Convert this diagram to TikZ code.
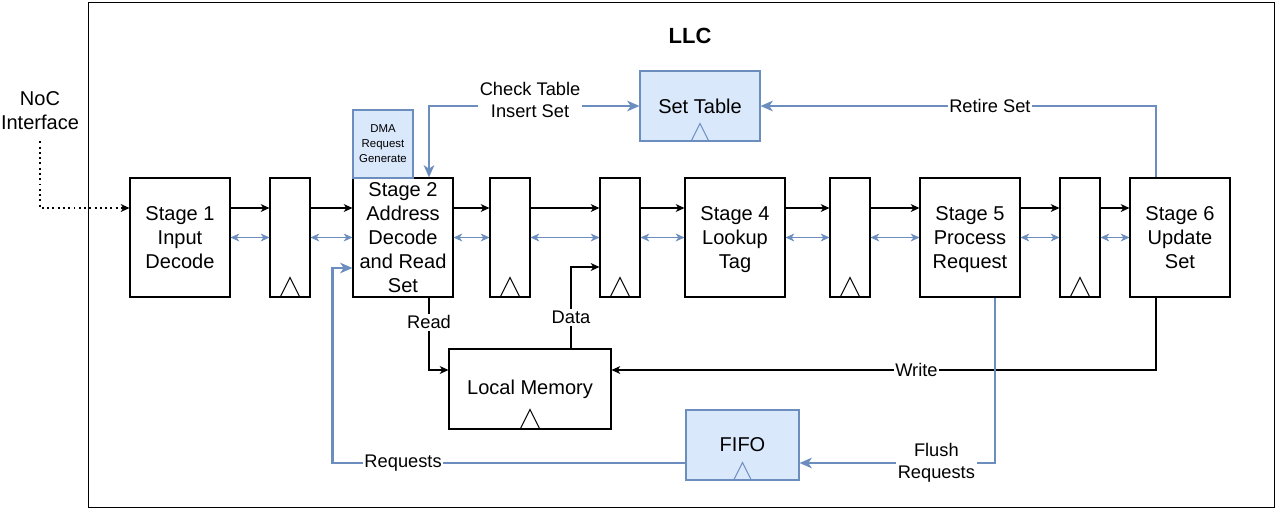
\documentclass[tikz,border=0pt]{standalone}
\usepackage{fontspec}
\setmainfont{Liberation Sans}
\usetikzlibrary{positioning,arrows.meta}
\definecolor{boxblue}{HTML}{DAE8FC}
\definecolor{lineblue}{HTML}{6C8EBF}

\begin{document}
\begin{tikzpicture}
    [x=0.02cm,y=-0.02cm,>={Stealth[length=5pt,width=4.5pt,inset=1.5pt]},
     every node/.style={font=\fontsize{11.4}{13.6}\selectfont, align=center, inner sep=0pt},
     stage/.style={draw, line width=0.6pt, minimum width=2cm, minimum height=2.38cm},
     reg/.style={draw, line width=0.6pt, minimum width=0.8cm, minimum height=2.38cm},
     bluebox/.style={draw=lineblue, fill=boxblue, line width=0.6pt},
     blueline/.style={draw=lineblue, line width=1.2pt, >={Stealth[length=7pt,width=6pt,inset=2pt]}},
     lbl/.style={fill=white, inner sep=1pt, font=\fontsize{10.4}{12.3}\selectfont}]
  \useasboundingbox (0,0) rectangle (1281,511);

  \node[draw, line width=0.6pt, minimum width=23.74cm, minimum height=10.12cm] (llcbox) at (681.5,255) {};
  \node (llc) at (690,36) {\fontsize{12.5}{15}\selectfont\bfseries LLC};
  \node (noc) at (40,111) {NoC\\Interface};

  \node[stage] (st1) at (180,237.5) {Stage 1\\Input\\Decode};
  \node[reg] (r1) at (290,237.5) {};
  \node[stage] (st2) at (403,237.5) {Stage 2\\Address\\Decode\\and Read\\Set};
  \node[reg] (r2) at (510,237.5) {};
  \node[reg] (r3) at (620,237.5) {};
  \node[stage] (st4) at (735,237.5) {Stage 4\\Lookup\\\smash{Tag}};
  \node[reg] (r4) at (850,237.5) {};
  \node[stage] (st5) at (970,237.5) {Stage 5\\Process\\\smash{Request}};
  \node[reg] (r5) at (1080,237.5) {};
  \node[stage] (st6) at (1180,237.5) {Stage 6\\Update\\Set};

  \node[bluebox, minimum width=1.2cm, minimum height=1.36cm, font=\fontsize{6.5}{8.5}\selectfont] (dma) at (383,144) {DMA\\Request\\Generate};
  \node[bluebox, minimum width=2.4cm, minimum height=1.4cm] (settab) at (700,106) {Set Table};
  \node[draw, line width=0.6pt, minimum width=3.24cm, minimum height=1.6cm] (lmem) at (530,389) {Local Memory};
  \node[bluebox, minimum width=2.26cm, minimum height=1.4cm] (fifo) at (742.5,445) {FIFO};

  % clock marks
  \foreach \n in {r1,r2,r3,r4,r5,lmem}
    \draw[line width=0.6pt] ([xshift=-0.2cm]\n.south) -- ([yshift=0.4cm]\n.south) -- ([xshift=0.2cm]\n.south);
  \foreach \n in {settab,fifo}
    \draw[lineblue, line width=0.6pt] ([xshift=-0.18cm]\n.south) -- ([yshift=0.36cm]\n.south) -- ([xshift=0.18cm]\n.south);

  % pipeline
  \foreach \from/\to in {st1/r1, r1/st2, st2/r2, r2/r3, r3/st4, st4/r4, r4/st5, st5/r5, r5/st6}
  {
    \draw[->, line width=0.6pt] ([yshift=0.59cm]\from.east) -- ([yshift=0.59cm]\to.west);
    \draw[<->, lineblue, line width=0.6pt] (\from.east) -- (\to.west);
  }

  \draw[->, line width=1.1pt, dash pattern=on 1.1pt off 1.9pt] ([yshift=-0.22cm]noc.south) |- ([yshift=0.59cm]st1.west);

  % memory
  \draw[->, line width=0.6pt] ([xshift=0.52cm]st2.south) |- node[lbl, pos=0.17]{Read} ([yshift=0.38cm]lmem.west);
  \draw[->, line width=0.6pt] ([xshift=0.82cm]lmem.north) |- node[lbl, pos=0.19]{Data} ([yshift=-0.59cm]r3.west);
  \draw[->, line width=0.6pt] ([xshift=-0.48cm]st6.south) |- node[lbl, pos=0.72]{Write} ([yshift=0.38cm]lmem.east);

  % set table and fifo
  \draw[<->, blueline] (settab.west) -| node[lbl, pos=0.26, yshift=0.12cm]{Check Table\\Insert Set} ([xshift=0.52cm]st2.north);
  \draw[->, blueline] ([xshift=-0.48cm]st6.north) |- node[lbl, pos=0.71]{Retire Set} (settab.east);
  \draw[->, blueline] ([xshift=0.5cm]st5.south) |- node[lbl, pos=0.65]{Flush\\Requests} ([yshift=-0.36cm]fifo.east);
  \draw[->, blueline] ([yshift=-0.36cm]fifo.west) -| node[lbl, pos=0.4]{Requests} ([xshift=-0.4cm,yshift=-0.61cm]st2.west) -- ([yshift=-0.61cm]st2.west);
\end{tikzpicture}
\end{document}
